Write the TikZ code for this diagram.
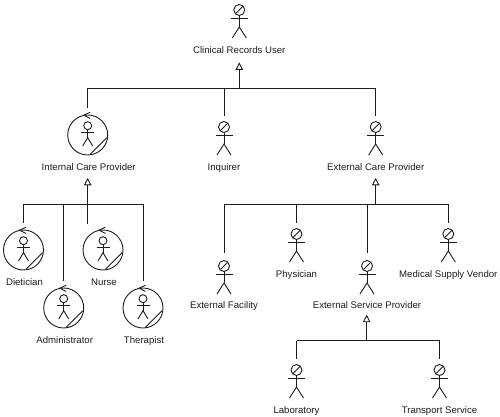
\documentclass[tikz,border=0pt]{standalone}
\usepackage{fontspec}
\setmainfont{Liberation Sans}
\usepackage{xcolor}
\usepackage{tikz}
\usetikzlibrary{arrows.meta,positioning,calc}
\definecolor{inkline}{HTML}{1C1C1C}

\begin{document}
\begin{tikzpicture}[
  x=1pt,y=-1pt,
  font=\fontsize{9.6}{11}\selectfont,
  figline/.style={draw=inkline,line width=0.9pt},
  head/.style={figline,circle,inner sep=0pt,minimum size=11pt},
  casering/.style={figline,circle,inner sep=0pt,minimum size=40pt},
  lbl/.style={text=inkline,inner sep=0pt,text height=7pt,text depth=2pt},
  stlbl/.style={lbl,below=30pt of #1},
  cslbl/.style={lbl,below=7.5pt of #1,xshift=1pt},
  bar/.style={draw=inkline,line width=1pt},
  drop/.style={bar,shorten >=5.5pt},
  farcase/.style={bar,shorten >=7pt},
  gen/.style={bar,line width=1.1pt,shorten >=#1,
              -{Triangle[open,length=7.5pt,width=7.5pt,line width=0.9pt]}},
  pics/stickbody/.style={code={
    \draw[figline] (-3.6,3.6) -- (3.6,-3.6);
    \draw[figline] (0,5.5) -- (0,17);
    \draw[figline] (-8.5,8) -- (8.5,8);
    \draw[figline] (-7,28) -- (0,17) -- (7,28);
  }},
  pics/casebody/.style={code={
    \draw[figline] (2.5,-22.8) -- (-4,-19.8) -- (2.5,-16.6);
    \draw[figline] (2.5,19.3) -- (19,2.7);
    \draw[figline] (0,-9.3) circle (4);
    \draw[figline] (0,-5.3) -- (0,2.7);
    \draw[figline] (-6.5,-3) -- (6.5,-3);
    \draw[figline] (-5,11) -- (0,2.7) -- (5,11);
  }},
]
\useasboundingbox (0,0) rectangle (500,417);

% ---- Top
\node[head] (user) at (239.3,10) {};
\pic at (user) {stickbody};
\node[stlbl=user] (userlbl) {Clinical Records User};

% ---- Second row
\node[casering] (icp) at (87.7,135) {};
\pic at (icp) {casebody};
\node[cslbl=icp] (icplbl) {Internal Care Provider};
\node[head] (inq) at (224,127) {};
\pic at (inq) {stickbody};
\node[stlbl=inq] (inqlbl) {Inquirer};
\node[head] (ecp) at (375.7,127) {};
\pic at (ecp) {stickbody};
\node[stlbl=ecp] (ecplbl) {External Care Provider};

% ---- Internal providers
\node[casering] (die) at (23.5,250) {};
\pic at (die) {casebody};
\node[cslbl=die] (dielbl) {Dietician};
\node[casering] (nur) at (103,250) {};
\pic at (nur) {casebody};
\node[cslbl=nur] (nurlbl) {Nurse};
\node[casering] (adm) at (63.7,308) {};
\pic at (adm) {casebody};
\node[cslbl=adm] (admlbl) {Administrator};
\node[casering] (the) at (143,308) {};
\pic at (the) {casebody};
\node[cslbl=the] (thelbl) {Therapist};

% ---- External providers
\node[head] (fac) at (224,266) {};
\pic at (fac) {stickbody};
\node[stlbl=fac,yshift=0.7pt] (faclbl) {External Facility};
\node[head] (phy) at (296.5,234) {};
\pic at (phy) {stickbody};
\node[stlbl=phy] (phylbl) {Physician};
\node[head] (esp) at (367,266) {};
\pic at (esp) {stickbody};
\node[stlbl=esp,yshift=0.7pt] (esplbl) {External Service Provider};
\node[head] (med) at (448.3,234) {};
\pic at (med) {stickbody};
\node[stlbl=med] (medlbl) {Medical Supply Vendor};
\node[head] (lab) at (296.5,370) {};
\pic at (lab) {stickbody};
\node[stlbl=lab] (lablbl) {Laboratory};
\node[head] (tra) at (439.5,370) {};
\pic at (tra) {stickbody};
\node[stlbl=tra] (tralbl) {Transport Service};

% ---- Bar levels
\coordinate (topbar) at (239.3,88.3);
\coordinate (inbar) at (87.7,204);
\coordinate (exbar) at (375.7,204);
\coordinate (svbar) at (366.7,340.5);

% ---- Arrows
\draw[gen=7pt] (topbar) -- (topbar |- userlbl.south);
\draw[farcase] (topbar -| icp) -- (icp.north);
\draw[bar] (topbar -| icp) -- (topbar -| ecp);
\draw[drop] (topbar -| inq) -- (inq.north);
\draw[drop] (topbar -| ecp) -- (ecp.north);

\draw[gen=5.5pt] (inbar) -- (inbar |- icplbl.south);
\draw[bar] (inbar -| die) -- (inbar -| the);
\draw[farcase] (inbar -| die) -- (die.north);
\draw[farcase] (inbar -| adm) -- (adm.north);
\draw[bar] (inbar) -- ($(inbar)+(0,20)$);
\draw[farcase] (inbar -| the) -- (the.north);

\draw[gen=5.5pt] (exbar) -- (exbar |- ecplbl.south);
\draw[bar] (exbar -| fac) -- (exbar -| med);
\draw[farcase] (exbar -| fac) -- (fac.north);
\draw[drop] (exbar -| phy) -- (phy.north);
\draw[farcase] (exbar -| esp) -- (esp.north);
\draw[drop] (exbar -| med) -- (med.north);

\draw[gen=4pt] (svbar) -- (svbar |- esplbl.south);
\draw[bar] (svbar -| lab) -- (svbar -| tra);
\draw[drop] (svbar -| lab) -- (lab.north);
\draw[drop] (svbar -| tra) -- (tra.north);

\end{tikzpicture}
\end{document}
